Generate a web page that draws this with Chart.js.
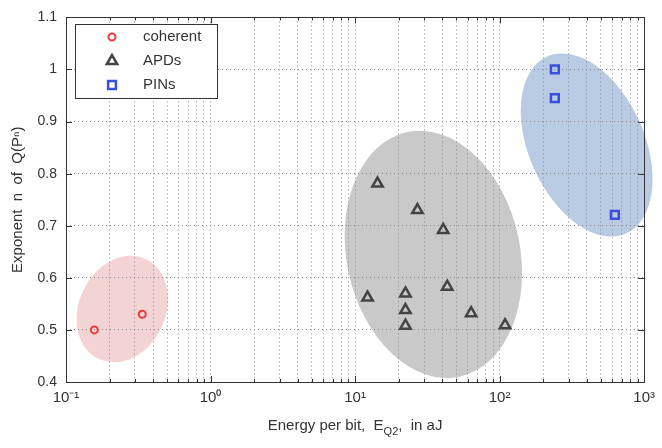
<!DOCTYPE html>
<html>
<head>
<meta charset="utf-8">
<script src="https://cdn.jsdelivr.net/npm/chart.js@4.4.0/dist/chart.umd.min.js"></script>
<style>
  html, body { margin: 0; padding: 0; background: #fff; }
  #wrap { width: 662px; height: 448px; }
</style>
</head>
<body>
<div id="wrap"><canvas id="myChart"></canvas></div>
<script>
let coherentX = [0.157, 0.337];
let coherentY = [0.50, 0.53];
let apdX = [14.3, 27, 40.7, 43.4, 12.2, 22.3, 22.3, 22.3, 63.5, 109];
let apdY = [0.781, 0.730, 0.692, 0.583, 0.562, 0.570, 0.538, 0.508, 0.532, 0.509];
let pinX = [241, 241, 627];
let pinY = [1.0, 0.945, 0.721];

let xTicks = [0.1, 1, 10, 100, 1000];
let xTickLabels = ["10⁻¹", "10⁰", "10¹", "10²", "10³"];
let yTickLabels = ["0.4", "0.5", "0.6", "0.7", "0.8", "0.9", "1", "1.1"];

// shaded regions: centre, half width in decades, half height in n, tilt (deg)
let regionX = [0.245, 34.8, 400];
let regionY = [0.54, 0.645, 0.855];
let regionHalfDecades = [0.30, 0.60, 0.40];
let regionHalfY = [0.106, 0.24, 0.186];
let regionTilt = [25, -12, -24];
let regionColors = ['#f3d3d3', '#c9c9c9', '#b9cbe3'];

// minor grid positions 1..9 per decade
let xGrid = [];
for (let i = 0; i < xTicks.length - 1; i++) {
    for (let k = 1; k <= 9; k++) xGrid.push(k * xTicks[i]);
}
xGrid.push(xTicks[xTicks.length - 1]);

function toPoints(xs, ys) {
    return xs.map((x, i) => ({x: x, y: ys[i]}));
}

const regions = {
    id: 'regions',
    beforeDraw(chart) {
        const ctx = chart.ctx, xs = chart.scales.x, ys = chart.scales.y;
        ctx.save();
        for (let i = 0; i < regionX.length; i++) {
            let cx = xs.getPixelForValue(regionX[i]);
            let cy = ys.getPixelForValue(regionY[i]);
            let rx = xs.getPixelForValue(regionX[i] * Math.pow(10, regionHalfDecades[i])) - cx;
            let ry = cy - ys.getPixelForValue(regionY[i] + regionHalfY[i]);
            ctx.beginPath();
            ctx.ellipse(cx, cy, rx, ry, regionTilt[i] * Math.PI / 180, 0, 2 * Math.PI);
            ctx.fillStyle = regionColors[i];
            ctx.fill();
        }
        ctx.restore();
    }
};

const frame = {
    id: 'frame',
    afterDraw(chart) {
        const ctx = chart.ctx, a = chart.chartArea, xs = chart.scales.x, ys = chart.scales.y;
        ctx.save();
        ctx.strokeStyle = '#333';
        ctx.lineWidth = 1;
        ctx.beginPath();
        xs.ticks.forEach(t => {
            let px = Math.round(xs.getPixelForValue(t.value)) + 0.5;
            let len = xTicks.includes(t.value) ? 6 : 3;
            ctx.moveTo(px, a.bottom); ctx.lineTo(px, a.bottom - len);
            ctx.moveTo(px, a.top); ctx.lineTo(px, a.top + len);
        });
        ys.ticks.forEach(t => {
            let py = Math.round(ys.getPixelForValue(t.value)) + 0.5;
            ctx.moveTo(a.left, py); ctx.lineTo(a.left + 6, py);
            ctx.moveTo(a.right, py); ctx.lineTo(a.right - 6, py);
        });
        ctx.stroke();
        ctx.strokeRect(Math.round(a.left) + 0.5, Math.round(a.top) + 0.5,
            Math.round(a.right - a.left), Math.round(a.bottom - a.top));

        // x axis title with subscript
        ctx.fillStyle = '#333';
        ctx.textBaseline = 'alphabetic';
        let big = '15px "Liberation Sans", Arial, sans-serif';
        let small = '11px "Liberation Sans", Arial, sans-serif';
        let parts = [['Energy per bit,  E', big, 0], ['Q2', small, 5], [',  in aJ', big, 0]];
        let w = 0;
        parts.forEach(p => { ctx.font = p[1]; w += ctx.measureText(p[0]).width; });
        let x0 = (a.left + a.right) / 2 - w / 2, base = 430;
        parts.forEach(p => {
            ctx.font = p[1];
            ctx.fillText(p[0], x0, base + p[2]);
            x0 += ctx.measureText(p[0]).width;
        });

        // legend box
        let bx = Math.round(a.left) + 9, by = Math.round(a.top) + 7, bw = 142, bh = 74;
        ctx.fillStyle = '#fff';
        ctx.fillRect(bx, by, bw, bh);
        ctx.strokeStyle = '#333';
        ctx.strokeRect(bx + 0.5, by + 0.5, bw, bh);
        chart.data.datasets.forEach((ds, i) => {
            let yy = by + 13 + i * 24;
            ctx.fillStyle = 'rgba(0,0,0,0)';
            ctx.strokeStyle = ds.borderColor;
            ctx.lineWidth = ds.borderWidth;
            Chart.helpers.drawPoint(ctx, {pointStyle: ds.pointStyle, radius: ds.pointRadius,
                borderWidth: ds.borderWidth, rotation: 0}, bx + 37, yy);
            ctx.fillStyle = '#333';
            ctx.font = '15px "Liberation Sans", Arial, sans-serif';
            ctx.textBaseline = 'middle';
            ctx.fillText(ds.label, bx + 68, yy);
        });
        ctx.restore();
    }
};

new Chart("myChart", {
    type: "scatter",
    data: {
        datasets: [{
            label: "coherent",
            data: toPoints(coherentX, coherentY),
            pointStyle: 'circle',
            pointRadius: 3.5,
            borderWidth: 2,
            borderColor: '#ec3b3b',
            backgroundColor: 'rgba(0,0,0,0)'
        }, {
            label: "APDs",
            data: toPoints(apdX, apdY),
            pointStyle: 'triangle',
            pointRadius: 6,
            borderWidth: 2.5,
            borderColor: '#444',
            backgroundColor: 'rgba(0,0,0,0)'
        }, {
            label: "PINs",
            data: toPoints(pinX, pinY),
            pointStyle: 'rect',
            pointRadius: 5.5,
            borderWidth: 2.5,
            borderColor: '#3a4ee0',
            backgroundColor: 'rgba(0,0,0,0)'
        }]
    },
    options: {
        responsive: true,
        maintainAspectRatio: false,
        animation: false,
        events: [],
        layout: {padding: {top: 11, right: 14, bottom: 0, left: 0}},
        plugins: {
            legend: {display: false},
            tooltip: {enabled: false}
        },
        scales: {
            x: {
                type: 'logarithmic',
                min: 0.1,
                max: 1000,
                afterBuildTicks: (scale) => {
                    scale.ticks = xGrid.map(v => ({value: v, major: xTicks.includes(v)}));
                },
                afterFit: (scale) => { scale.height = 66; },
                grid: {color: '#8a8a8a', lineWidth: 1, drawTicks: false},
                border: {display: false, dash: [1, 3]},
                ticks: {
                    autoSkip: false,
                    maxRotation: 0,
                    padding: 7,
                    color: '#333',
                    font: {family: '"Liberation Sans", Arial, sans-serif', size: 15},
                    callback: (value) => {
                        let i = xTicks.indexOf(value);
                        return i >= 0 ? xTickLabels[i] : '';
                    }
                }
            },
            y: {
                min: 0.4,
                max: 1.1,
                afterFit: (scale) => { scale.width = 66; },
                grid: {color: '#8a8a8a', lineWidth: 1, drawTicks: false},
                border: {display: false, dash: [1, 3]},
                title: {
                    display: true,
                    text: 'Exponent  n  of  Q(Pⁿ)',
                    color: '#333',
                    padding: {top: 9, bottom: 0},
                    font: {family: '"Liberation Sans", Arial, sans-serif', size: 15}
                },
                ticks: {
                    stepSize: 0.1,
                    padding: 9,
                    color: '#333',
                    font: {family: '"Liberation Sans", Arial, sans-serif', size: 14},
                    callback: (value, index) => yTickLabels[index]
                }
            }
        }
    },
    plugins: [regions, frame]
});
</script>
</body>
</html>
